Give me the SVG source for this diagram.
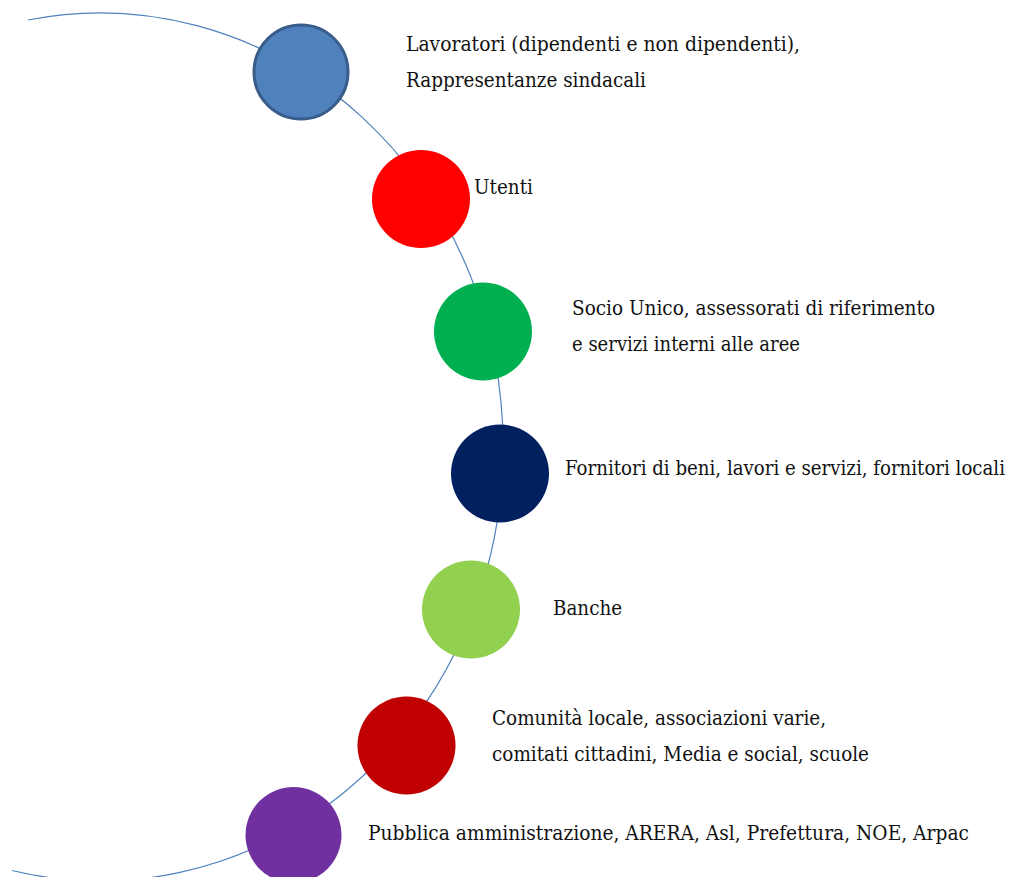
<svg xmlns="http://www.w3.org/2000/svg" width="1014" height="877" viewBox="0 0 1014 877">
<style>
  .lbl { font-family: "DejaVu Serif", "Liberation Serif", serif; font-size: 19.5px; fill: #111111; }
  .arc { fill: none; stroke: #4F81BD; stroke-width: 1.2; }
</style>
<rect width="1014" height="877" fill="#ffffff"/>
<g id="connectors">
  <path class="arc" d="M 28 20 A 403 434 0 1 1 12 870.5"/>
</g>
<g id="node-lavoratori">
  <circle cx="301" cy="72" r="47" fill="#4F81BD" stroke="#385D8A" stroke-width="3"/>
  <text class="lbl" x="406" y="51" textLength="394" lengthAdjust="spacingAndGlyphs">Lavoratori (dipendenti e non dipendenti),</text>
  <text class="lbl" x="406" y="87" textLength="240" lengthAdjust="spacingAndGlyphs">Rappresentanze sindacali</text>
</g>
<g id="node-utenti">
  <circle cx="421" cy="199" r="49" fill="#FF0000"/>
  <text class="lbl" x="474" y="194" textLength="59" lengthAdjust="spacingAndGlyphs">Utenti</text>
</g>
<g id="node-socio">
  <circle cx="483" cy="331.5" r="49" fill="#00B050"/>
  <text class="lbl" x="572" y="315" textLength="363" lengthAdjust="spacingAndGlyphs">Socio Unico, assessorati di riferimento</text>
  <text class="lbl" x="572" y="351" textLength="228" lengthAdjust="spacingAndGlyphs">e servizi interni alle aree</text>
</g>
<g id="node-fornitori">
  <circle cx="500" cy="473.5" r="49" fill="#002060"/>
  <text class="lbl" x="565" y="475" textLength="440" lengthAdjust="spacingAndGlyphs">Fornitori di beni, lavori e servizi, fornitori locali</text>
</g>
<g id="node-banche">
  <circle cx="471" cy="609.5" r="49" fill="#92D050"/>
  <text class="lbl" x="553" y="615" textLength="69" lengthAdjust="spacingAndGlyphs">Banche</text>
</g>
<g id="node-comunita">
  <circle cx="406.5" cy="745.5" r="49" fill="#C00000"/>
  <text class="lbl" x="492" y="725" textLength="334" lengthAdjust="spacingAndGlyphs">Comunità locale, associazioni varie,</text>
  <text class="lbl" x="492" y="761" textLength="377" lengthAdjust="spacingAndGlyphs">comitati cittadini, Media e social, scuole</text>
</g>
<g id="node-pa">
  <circle cx="293.5" cy="835" r="48" fill="#7030A0"/>
  <text class="lbl" x="368" y="840" textLength="601" lengthAdjust="spacingAndGlyphs">Pubblica amministrazione, ARERA, Asl, Prefettura, NOE, Arpac</text>
</g>
</svg>
